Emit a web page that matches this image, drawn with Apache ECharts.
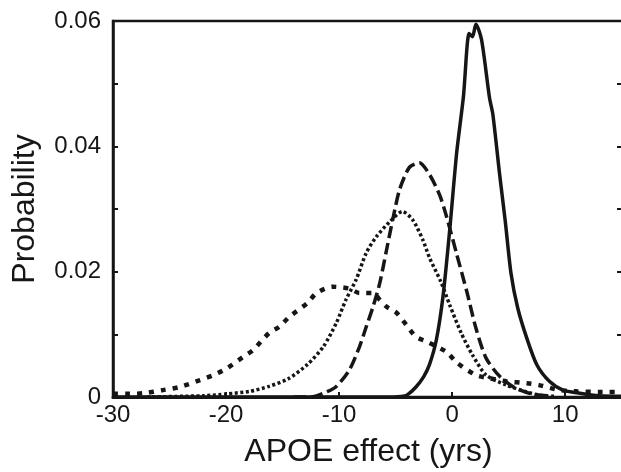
<!DOCTYPE html>
<html>
<head>
<meta charset="utf-8">
<script src="https://cdn.jsdelivr.net/npm/echarts@6/dist/echarts.min.js"></script>
<style>
  html, body { margin: 0; padding: 0; background: #fff; }
  #chart { width: 621px; height: 472px; }
</style>
</head>
<body>
<div id="chart"></div>
<script>
// values (x = APOE effect in years, y = probability)
const solidX = [-30, -6, -4.5, -4, -3.2, -2.5, -2, -1.4, -0.8, -0.2, 0.4, 1.0, 1.5, 1.8, 2.1, 2.6, 3.3, 3.6, 4.2, 4.7, 5.2, 5.8, 6.6, 7.5, 8.6, 9.8, 11.3, 13, 15.2]
const solidY = [0, 0, 0.0001, 0.0003, 0.0016, 0.0033, 0.0052, 0.0091, 0.0162, 0.027, 0.039, 0.048, 0.058, 0.0575, 0.0595, 0.057, 0.0478, 0.0451, 0.0355, 0.028, 0.0198, 0.0142, 0.0094, 0.0051, 0.0025, 0.0011, 0.0006, 0.0002, 0.0001]

const dashX = [-14, -12.5, -11.4, -10.3, -9.1, -8.2, -7.6, -7.0, -6.4, -5.8, -5.2, -4.65, -3.8, -2.9, -2.0, -1.1, -0.5, 0.4, 1.3, 2.1, 3.0, 4.2, 5.5, 7, 9]
const dashY = [0, 0, 0.0006, 0.0016, 0.0043, 0.008, 0.0112, 0.0144, 0.0182, 0.0235, 0.0288, 0.0331, 0.0366, 0.0374, 0.0355, 0.0322, 0.0288, 0.0228, 0.0168, 0.011, 0.0062, 0.0033, 0.0015, 0.0005, 0.0001]

const dotX = [-27, -22, -19.9, -17.9, -16.2, -14.5, -12.8, -11.4, -10.25, -9.4, -8.5, -7.6, -6.7, -5.5, -4.4, -3.5, -2.6, -2.0, -1.0, -0.2, 0.8, 1.8, 3.0, 4.8, 6.6, 7.7, 9]
const dotY = [0, 0.0002, 0.0005, 0.0009, 0.0017, 0.0029, 0.0052, 0.008, 0.0118, 0.0155, 0.0187, 0.023, 0.0256, 0.028, 0.0296, 0.0283, 0.0251, 0.0222, 0.0184, 0.0146, 0.0102, 0.0067, 0.0035, 0.0019, 0.0008, 0.0003, 0.0001]

const wideX = [-30, -28.8, -27.3, -25.6, -24.1, -22.3, -21.1, -19.9, -18.5, -17.6, -16.2, -15.3, -14.4, -12.8, -12.0, -10.6, -9.1, -8.2, -7.0, -6.4, -5.8, -4.9, -4.05, -3.2, -2.2, -0.5, 0.4, 2.1, 3.3, 4.8, 6.6, 7.7, 9.5, 11, 13, 15.2]
const wideY = [0.0005, 0.0005, 0.0006, 0.0011, 0.0016, 0.0027, 0.0035, 0.0046, 0.0064, 0.0075, 0.0102, 0.0112, 0.0128, 0.015, 0.0166, 0.0176, 0.0173, 0.0166, 0.0166, 0.0155, 0.0144, 0.0134, 0.0115, 0.0096, 0.0088, 0.0072, 0.0055, 0.0035, 0.003, 0.0025, 0.0022, 0.0019, 0.0011, 0.0009, 0.0008, 0.0008]

const xTicks = [-30, -20, -10, 0, 10]
const yTicks = [0, 0.02, 0.04, 0.06]

const ink = '#161616'
const font = '"Liberation Sans", Arial, sans-serif'

function pairs(xs, ys) {
  return xs.map((x, i) => [x, ys[i]])
}

function curve(name, xs, ys, width, type) {
  return {
    name: name,
    type: 'line',
    data: pairs(xs, ys),
    showSymbol: false,
    smooth: 0.25,
    lineStyle: { color: ink, width: width, type: type, cap: 'butt' },
    z: 3
  }
}

const chart = echarts.init(document.getElementById('chart'), null, { renderer: 'canvas' })

chart.setOption({
  animation: false,
  backgroundColor: '#fff',
  grid: {
    left: 113,
    top: 21,
    right: -3,
    bottom: 75,
    outerBoundsMode: 'none',
    containLabel: false,
    show: true,
    borderColor: ink,
    borderWidth: 2.5
  },
  xAxis: {
    type: 'value',
    min: -30,
    max: 15.2,
    interval: 10,
    name: 'APOE effect (yrs)',
    nameLocation: 'middle',
    nameGap: 39,
    nameTextStyle: { fontFamily: font, fontSize: 32, color: ink },
    axisLine: { show: true, onZero: false, lineStyle: { color: ink, width: 3 } },
    axisTick: { show: true, inside: true, length: 5, lineStyle: { color: ink, width: 2 } },
    axisLabel: {
      margin: 6,
      fontFamily: font,
      fontSize: 24,
      color: ink,
      formatter: v => (xTicks.indexOf(v) >= 0 ? String(v) : '')
    },
    splitLine: { show: false }
  },
  yAxis: [
    {
      type: 'value',
      min: 0,
      max: 0.06,
      interval: 0.01,
      name: 'Probability',
      nameLocation: 'middle',
      nameGap: 72,
      nameTextStyle: { fontFamily: font, fontSize: 32, color: ink },
      axisLine: { show: true, onZero: false, lineStyle: { color: ink, width: 2.5 } },
      axisTick: { show: true, inside: true, length: 5, lineStyle: { color: ink, width: 2 } },
      axisLabel: {
        margin: 12,
        fontFamily: font,
        fontSize: 24,
        color: ink,
        formatter: v => {
          const hit = yTicks.find(t => Math.abs(t - v) < 1e-9)
          if (hit === undefined) return ''
          return hit === 0 ? '0' : hit.toFixed(2)
        }
      },
      splitLine: { show: false }
    },
    {
      type: 'value',
      position: 'right',
      min: 0,
      max: 0.06,
      interval: 0.01,
      axisLine: { show: false, onZero: false },
      axisTick: { show: true, inside: true, length: 7, lineStyle: { color: ink, width: 2 } },
      axisLabel: { show: false },
      splitLine: { show: false }
    }
  ],
  series: [
    curve('wide', wideX, wideY, 4.5, [5, 7]),
    curve('dotted', dotX, dotY, 3.5, [3, 2.5]),
    curve('dashed', dashX, dashY, 3.5, [12, 5]),
    curve('solid', solidX, solidY, 3.5, 'solid')
  ]
})
</script>
</body>
</html>
